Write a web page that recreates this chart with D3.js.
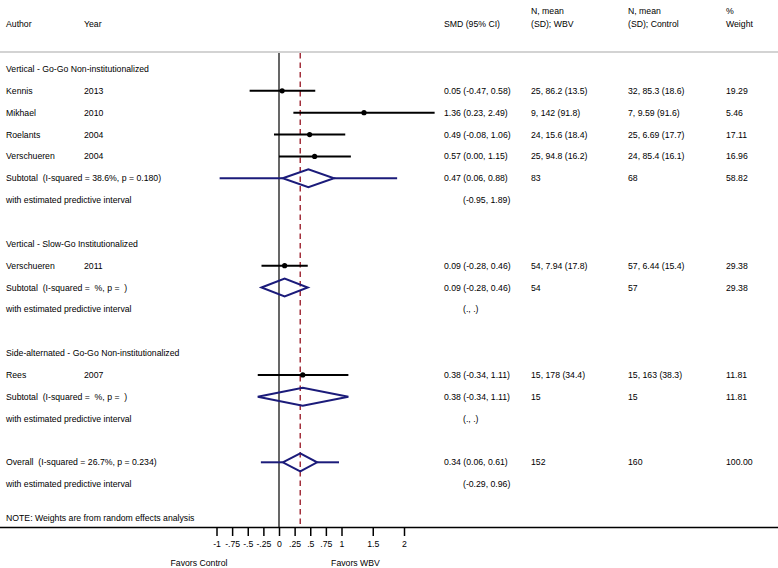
<!DOCTYPE html>
<html>
<head>
<meta charset="utf-8">
<script src="https://cdn.jsdelivr.net/npm/d3@7"></script>
<style>
  html, body { margin: 0; padding: 0; background: #fff; }
  svg text { font-family: "Liberation Sans", Arial, Helvetica, sans-serif; font-size: 8.7px; fill: #000; white-space: pre; }
</style>
</head>
<body>
<svg id="chart" width="778" height="568"></svg>
<script>
// ---- Data ----
const groupNames = ["Vertical - Go-Go Non-institutionalized", "Vertical - Slow-Go Institutionalized", "Side-alternated - Go-Go Non-institutionalized"];

const studyAuthor = ["Kennis", "Mikhael", "Roelants", "Verschueren", "Verschueren", "Rees"];
const studyYear = ["2013", "2010", "2004", "2004", "2011", "2007"];
const studyGroup = [0, 0, 0, 0, 1, 2];
const studySMD = [0.05, 1.36, 0.49, 0.57, 0.09, 0.38];
const studyLo = [-0.47, 0.23, -0.08, 0.00, -0.28, -0.34];
const studyHi = [0.58, 2.49, 1.06, 1.15, 0.46, 1.11];
const studyCI = ["0.05 (-0.47, 0.58)", "1.36 (0.23, 2.49)", "0.49 (-0.08, 1.06)", "0.57 (0.00, 1.15)", "0.09 (-0.28, 0.46)", "0.38 (-0.34, 1.11)"];
const studyWBV = ["25, 86.2 (13.5)", "9, 142 (91.8)", "24, 15.6 (18.4)", "25, 94.8 (16.2)", "54, 7.94 (17.8)", "15, 178 (34.4)"];
const studyControl = ["32, 85.3 (18.6)", "7, 9.59 (91.6)", "25, 6.69 (17.7)", "24, 85.4 (16.1)", "57, 6.44 (15.4)", "15, 163 (38.3)"];
const studyWeight = ["19.29", "5.46", "17.11", "16.96", "29.38", "11.81"];

const subLabel = ["Subtotal  (I-squared = 38.6%, p = 0.180)", "Subtotal  (I-squared =  %, p =  )", "Subtotal  (I-squared =  %, p =  )"];
const subSMD = [0.47, 0.09, 0.38];
const subLo = [0.06, -0.28, -0.34];
const subHi = [0.88, 0.46, 1.11];
const subPredLo = [-0.95, null, null];
const subPredHi = [1.89, null, null];
const subCI = ["0.47 (0.06, 0.88)", "0.09 (-0.28, 0.46)", "0.38 (-0.34, 1.11)"];
const subPredText = ["(-0.95, 1.89)", "(., .)", "(., .)"];
const subWBV = ["83", "54", "15"];
const subControl = ["68", "57", "15"];
const subWeight = ["58.82", "29.38", "11.81"];

const overallLabel = "Overall  (I-squared = 26.7%, p = 0.234)";
const overallSMD = [0.34];
const overallLo = [0.06];
const overallHi = [0.61];
const overallPredLo = [-0.29];
const overallPredHi = [0.96];
const overallCI = "0.34 (0.06, 0.61)";
const overallPredText = "(-0.29, 0.96)";
const overallWBV = "152";
const overallControl = "160";
const overallWeight = "100.00";

const tickValues = [-1, -0.75, -0.5, -0.25, 0, 0.25, 0.5, 0.75, 1, 1.5, 2];
const tickLabels = ["-1", "-.75", "-.5", "-.25", "0", ".25", ".5", ".75", "1", "1.5", "2"];

const predText = "with estimated predictive interval";
const noteText = "NOTE: Weights are from random effects analysis";

// ---- Build row list ----
const rows = [];
groupNames.forEach((g, gi) => {
  rows.push({type: "group", label: g});
  studyAuthor.forEach((a, si) => {
    if (studyGroup[si] === gi) rows.push({type: "study", i: si});
  });
  rows.push({type: "sub", i: gi});
  rows.push({type: "pred", text: subPredText[gi]});
  rows.push({type: "blank"});
});
rows.push({type: "overall"});
rows.push({type: "pred", text: overallPredText});

// ---- Layout ----
const svg = d3.select("#chart");
const W = 778;
const x = d3.scaleLinear().domain([-1, 2]).range([216.5, 404]);
const y = d3.scaleLinear().domain([0, 18]).range([69, 462.3]);
const navy = "#1b1b7a";
const red = "#a3303c";
const plotTop = 52, axisY = 527.5;

const col = {author: 6, year: 84, ci: 444, pred: 463, wbv: 531, ctrl: 628, wt: 726};

function txt(xp, yp, s, anchor) {
  svg.append("text").attr("x", xp).attr("y", yp).attr("dy", "0.35em")
    .attr("xml:space", "preserve")
    .attr("text-anchor", anchor || "start").text(s);
}

// headers
txt(col.wbv, 11, "N, mean");
txt(col.ctrl, 11, "N, mean");
txt(col.wt, 11, "%");
txt(col.author, 24, "Author");
txt(col.year, 24, "Year");
txt(col.ci, 24, "SMD (95% CI)");
txt(col.wbv, 24, "(SD); WBV");
txt(col.ctrl, 24, "(SD); Control");
txt(col.wt, 24, "Weight");

svg.append("line").attr("x1", 0).attr("x2", W).attr("y1", plotTop).attr("y2", plotTop)
  .attr("stroke", "#c4c4c4").attr("stroke-width", 1.6);

// zero line and overall dashed line
svg.append("line").attr("x1", x(0)).attr("x2", x(0)).attr("y1", plotTop + 1).attr("y2", axisY)
  .attr("stroke", "#000").attr("stroke-width", 1.2);
svg.append("line").attr("x1", x(overallSMD[0])).attr("x2", x(overallSMD[0])).attr("y1", plotTop + 1).attr("y2", axisY)
  .attr("stroke", red).attr("stroke-width", 1.5).attr("stroke-dasharray", "5.5,4");

function diamond(yy, lo, mid, hi, pLo, pHi) {
  const h = 9;
  if (pLo != null) {
    svg.append("line").attr("x1", x(pLo)).attr("x2", x(lo)).attr("y1", yy).attr("y2", yy)
      .attr("stroke", navy).attr("stroke-width", 2);
    svg.append("line").attr("x1", x(hi)).attr("x2", x(pHi)).attr("y1", yy).attr("y2", yy)
      .attr("stroke", navy).attr("stroke-width", 2);
  }
  const pts = [[x(lo), yy], [x(mid), yy - h], [x(hi), yy], [x(mid), yy + h]];
  svg.append("path").attr("d", d3.line()(pts) + "Z")
    .attr("fill", "none").attr("stroke", navy).attr("stroke-width", 2).attr("stroke-linejoin", "miter");
}

rows.forEach((r, ri) => {
  const yy = y(ri);
  if (r.type === "group") {
    txt(col.author, yy, r.label);
  } else if (r.type === "study") {
    const i = r.i;
    txt(col.author, yy, studyAuthor[i]);
    txt(col.year, yy, studyYear[i]);
    txt(col.ci, yy, studyCI[i]);
    txt(col.wbv, yy, studyWBV[i]);
    txt(col.ctrl, yy, studyControl[i]);
    txt(col.wt, yy, studyWeight[i]);
    svg.append("line").attr("x1", x(studyLo[i])).attr("x2", x(studyHi[i])).attr("y1", yy).attr("y2", yy)
      .attr("stroke", "#000").attr("stroke-width", 2);
    svg.append("circle").attr("cx", x(studySMD[i])).attr("cy", yy).attr("r", 2.6).attr("fill", "#000");
  } else if (r.type === "sub") {
    const i = r.i;
    txt(col.author, yy, subLabel[i]);
    txt(col.ci, yy, subCI[i]);
    txt(col.wbv, yy, subWBV[i]);
    txt(col.ctrl, yy, subControl[i]);
    txt(col.wt, yy, subWeight[i]);
    diamond(yy, subLo[i], subSMD[i], subHi[i], subPredLo[i], subPredHi[i]);
  } else if (r.type === "pred") {
    txt(col.author, yy, predText);
    txt(col.pred, yy, r.text);
  } else if (r.type === "overall") {
    txt(col.author, yy, overallLabel);
    txt(col.ci, yy, overallCI);
    txt(col.wbv, yy, overallWBV);
    txt(col.ctrl, yy, overallControl);
    txt(col.wt, yy, overallWeight);
    diamond(yy, overallLo[0], overallSMD[0], overallHi[0], overallPredLo[0], overallPredHi[0]);
  }
});

txt(col.author, 518, noteText);

// axis
svg.append("line").attr("x1", 0).attr("x2", W).attr("y1", axisY).attr("y2", axisY)
  .attr("stroke", "#000").attr("stroke-width", 1.6);
const axis = d3.axisBottom(x).tickValues(tickValues)
  .tickFormat((d, i) => tickLabels[i]).tickSize(8.5).tickPadding(5);
const ag = svg.append("g").attr("transform", `translate(0,${axisY})`).call(axis);
ag.select(".domain").remove();
ag.selectAll(".tick line").attr("stroke", "#000").attr("stroke-width", 1.5);
ag.selectAll(".tick text").style("font-family", "'Liberation Sans', Arial, sans-serif").style("font-size", "8.7px").attr("fill", "#000");

txt(199, 563, "Favors Control", "middle");
txt(355.5, 563, "Favors WBV", "middle");
</script>
</body>
</html>
